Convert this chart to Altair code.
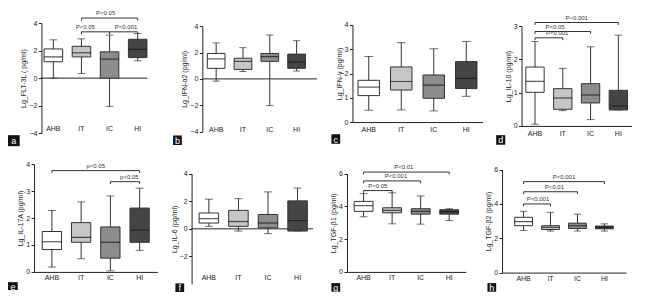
import altair as alt
import pandas as pd

groups = ["AHB", "IT", "IC", "HI"]
box_fills = ["#ffffff", "#c6c6c6", "#8c8c8c", "#454545"]

# whisker low, Q1, median, Q3, whisker high for each group
flt3l_low = [0.00, 0.33, -2.05, 1.26]
flt3l_q1 = [1.19, 1.54, 0.00, 1.49]
flt3l_med = [1.54, 1.84, 1.38, 2.08]
flt3l_q3 = [2.12, 2.31, 1.91, 2.82]
flt3l_high = [2.78, 2.85, 3.12, 3.24]

ifna2_low = [-0.17, 0.56, -2.03, 0.60]
ifna2_q1 = [0.80, 0.72, 1.33, 0.80]
ifna2_med = [1.52, 1.33, 1.69, 1.28]
ifna2_q3 = [1.93, 1.57, 1.93, 1.88]
ifna2_high = [2.73, 2.37, 3.33, 2.90]

ifng_low = [0.49, 0.50, 0.46, 1.06]
ifng_q1 = [1.09, 1.32, 0.98, 1.38]
ifng_med = [1.44, 1.67, 1.52, 1.80]
ifng_q3 = [1.72, 2.27, 1.94, 2.49]
ifng_high = [2.70, 3.27, 3.02, 3.32]

il10_low = [0.05, 0.46, 0.19, 0.48]
il10_q1 = [1.01, 0.50, 0.69, 0.48]
il10_med = [1.34, 0.84, 0.93, 0.60]
il10_q3 = [1.77, 1.12, 1.27, 1.07]
il10_high = [2.54, 1.73, 2.38, 2.73]

il17a_low = [0.18, 0.49, 0.04, 0.80]
il17a_q1 = [0.83, 1.10, 0.51, 1.10]
il17a_med = [1.12, 1.28, 1.10, 1.55]
il17a_q3 = [1.50, 1.83, 1.67, 2.37]
il17a_high = [2.28, 2.60, 2.82, 3.11]

il6_low = [0.18, -0.16, -0.35, -0.16]
il6_q1 = [0.42, 0.18, 0.07, -0.16]
il6_med = [0.74, 0.53, 0.42, 0.60]
il6_q3 = [1.15, 1.34, 1.04, 2.03]
il6_high = [2.15, 2.19, 2.68, 2.96]

tgfb1_low = [3.37, 2.94, 2.92, 3.14]
tgfb1_q1 = [3.70, 3.61, 3.53, 3.53]
tgfb1_med = [4.05, 3.76, 3.70, 3.68]
tgfb1_q3 = [4.31, 3.92, 3.86, 3.80]
tgfb1_high = [4.78, 4.83, 4.64, 3.86]

tgfb2_low = [2.45, 2.42, 2.42, 2.42]
tgfb2_q1 = [2.73, 2.51, 2.57, 2.55]
tgfb2_med = [2.97, 2.64, 2.73, 2.64]
tgfb2_q3 = [3.22, 2.73, 2.88, 2.71]
tgfb2_high = [3.57, 3.51, 3.40, 2.84]

# significance brackets: (group from, group to, height, label, label shift)
flt3l_sig = [("IT", "HI", 4.36, "P<0.05", -4), ("IT", "IC", 3.36, "P<0.05", -10.5),
             ("IC", "HI", 3.36, "P<0.001", 2.5)]
il10_sig = [("AHB", "HI", 3.11, "P<0.001", 0), ("AHB", "IC", 2.84, "P<0.05", -8),
            ("AHB", "IT", 2.65, "P<0.001", 8.5)]
il17a_sig = [("AHB", "HI", 3.76, "p<0.05", 0), ("IC", "HI", 3.35, "p<0.05", 4.5)]
tgfb1_sig = [("AHB", "HI", 6.10, "P<0.01", -2.6), ("AHB", "IC", 5.56, "P<0.001", 4),
             ("AHB", "IT", 4.97, "P<0.05", 0)]
tgfb2_sig = [("AHB", "HI", 5.30, "P<0.001", 0), ("AHB", "IC", 4.71, "P<0.01", 4),
             ("AHB", "IT", 4.00, "P<0.001", 1)]

CW, CH = 156, 142
KX, KY = 4 * CW / 640, 2 * CH / 297
FS = 7
INK = "#222222"

panels = [
    dict(letter="a", title="Lg_FLT-3L ( pg/ml)", stats=(flt3l_low, flt3l_q1, flt3l_med, flt3l_q3, flt3l_high),
         dom=(-4, 4), ticks=[-4, -2, 0, 2, 4], top=20.7, bottom=136, axis=34.3, c0=46.5, c3=133,
         zero=(34.3, 143), xlab=131, sig=flt3l_sig, box=(0, 138, 12, 149.5)),
    dict(letter="b", title="Lg_IFN-α2 (pg/ml)", stats=(ifna2_low, ifna2_q1, ifna2_med, ifna2_q3, ifna2_high),
         dom=(-4, 4), ticks=[-4, -2, 0, 2, 4], top=24, bottom=134.3, axis=39.3, c0=53.5, c3=136,
         zero=(39.3, 157), xlab=131.7, sig=[], box=(9.3, 138.3, 18.3, 148.3)),
    dict(letter="c", title="Lg_IFN-γ (pg/ml)", stats=(ifng_low, ifng_q1, ifng_med, ifng_q3, ifng_high),
         dom=(0, 4), ticks=[0, 1, 2, 3, 4], top=22.7, bottom=124.3, axis=33.3, c0=50, c3=150,
         zero=None, xlab=131.7, sig=[], box=(11.7, 137, 20.7, 147)),
    dict(letter="d", title="Lg_IL-10 (pg/ml)", stats=(il10_low, il10_q1, il10_med, il10_q3, il10_high),
         dom=(0, 3), ticks=[0, 1, 2, 3], top=24, bottom=128.3, axis=46.7, c0=60.5, c3=146,
         zero=None, xlab=136, sig=il10_sig, box=(20.7, 138, 30, 148)),
    dict(letter="e", title="Lg_IL-17A (pg/ml)", stats=(il17a_low, il17a_q1, il17a_med, il17a_q3, il17a_high),
         dom=(0, 4), ticks=[0, 1, 2, 3, 4], top=18.3, bottom=131, axis=26.7, c0=45, c3=135,
         zero=None, xlab=136, sig=il17a_sig, box=(0, 141.7, 10, 150)),
    dict(letter="f", title="Lg_IL-6 (pg/ml)", stats=(il6_low, il6_q1, il6_med, il6_q3, il6_high),
         dom=(-4, 4), ticks=[-2, 0, 2, 4], top=28.3, bottom=143.6, axis=28.3, c0=46, c3=137,
         zero=(28.3, 153), xlab=136.7, sig=[], box=(11.7, 143, 20.7, 152)),
    dict(letter="g", title="Lg_TGF-β1 (pg/ml)", stats=(tgfb1_low, tgfb1_q1, tgfb1_med, tgfb1_q3, tgfb1_high),
         dom=(0, 6), ticks=[0, 2, 4, 6], top=28.3, bottom=131, axis=27.7, c0=44.7, c3=132.5,
         zero=None, xlab=136.7, sig=tgfb1_sig, box=(11.7, 142.7, 20.7, 151.7)),
    dict(letter="h", title="Lg_TGF-β2  (pg/ml)", stats=(tgfb2_low, tgfb2_q1, tgfb2_med, tgfb2_q3, tgfb2_high),
         dom=(0, 6), ticks=[0, 2, 4, 6], top=24, bottom=131.7, axis=26.7, c0=48.8, c3=131.7,
         zero=None, xlab=137.3, sig=tgfb2_sig, box=(11.7, 142.7, 20.7, 151.7)),
]


def build(spec, col, row):
    fx = lambda v: (160 * col + v) * KX - col * CW
    fy = lambda v: (150 * row + v - 5) * KY - row * CH
    ax = fx(spec["axis"])
    c0, c3 = fx(spec["c0"]), fx(spec["c3"])
    step = (c3 - c0) / 3
    p = max(0.0, (c0 - ax) / step - 0.5) if spec["zero"] is None else 0.0
    L, R = c0 - step * (0.5 + p), c3 + step * (0.5 + p)
    yT, yB = fy(spec["top"]), fy(spec["bottom"])
    lo, hi = spec["dom"]
    ppu = (yB - yT) / (hi - lo)

    xs = alt.Scale(domain=groups, range=[L, R], paddingInner=0, paddingOuter=p)
    ys = alt.Scale(domain=[lo, hi], range=[yB, yT], nice=False, zero=False)
    lab_y = fy(spec["xlab"])
    if spec["zero"] is not None:
        xaxis = alt.Axis(title=None, domain=False, ticks=False, tickSize=0, labelAngle=0,
                         labelPadding=1, offset=(lab_y - FS / 2 - 1) - CH)
    else:
        xaxis = alt.Axis(title=None, domain=True, ticks=False, tickSize=0, labelAngle=0,
                         labelPadding=max(1.0, lab_y - FS / 2 - yB), offset=yB - CH)
    yaxis = alt.Axis(title=spec["title"], values=spec["ticks"], format="d", offset=-ax,
                     tickSize=3, labelPadding=1.5, titlePadding=2, grid=False)

    X = lambda f: alt.X(f + ":N", scale=xs, axis=xaxis, sort=groups)
    Y = lambda f: alt.Y(f + ":Q", scale=ys, axis=yaxis)

    low, q1, med, q3, high = spec["stats"]
    df = pd.DataFrame({"group": groups, "low": low, "q1": q1, "med": med, "q3": q3, "high": high})
    base = alt.Chart(df)
    boxw = step * 0.66
    capw = step * 0.27

    layers = []
    if spec["zero"] is not None:
        z0, z1 = spec["zero"]
        layers.append(
            alt.Chart(pd.DataFrame({"z": [0]})).mark_rule(color=INK, strokeWidth=1).encode(
                y=Y("z"), x=alt.value(fx(z0)), x2=alt.value(fx(z1))))
    layers += [
        base.mark_rule(color="#333", strokeWidth=1).encode(x=X("group"), y=Y("low"), y2="high:Q"),
        base.mark_bar(width=alt.RelativeBandSize(0.66), stroke="#333", strokeWidth=1).encode(
            x=X("group"), y=Y("q1"), y2="q3:Q",
            color=alt.Color("group:N", scale=alt.Scale(domain=groups, range=box_fills), legend=None)),
        base.mark_tick(color="#111", thickness=1.2, size=boxw).encode(x=X("group"), y=Y("med")),
        base.mark_tick(color="#333", thickness=1, size=capw).encode(x=X("group"), y=Y("low")),
        base.mark_tick(color="#333", thickness=1, size=capw).encode(x=X("group"), y=Y("high")),
    ]

    if spec["sig"]:
        drop = 2.5 * KY / ppu
        bdf = pd.DataFrame({"g1": [s[0] for s in spec["sig"]], "g2": [s[1] for s in spec["sig"]],
                            "v": [s[2] for s in spec["sig"]]})
        ends = []
        for s in spec["sig"]:
            ends.append({"g": s[0], "v": s[2], "vd": s[2] - drop})
            ends.append({"g": s[1], "v": s[2], "vd": s[2] - drop})
        layers.append(alt.Chart(bdf).mark_rule(color="#333", strokeWidth=1).encode(
            x=X("g1"), x2="g2:N", y=Y("v")))
        layers.append(alt.Chart(pd.DataFrame(ends)).mark_rule(color="#333", strokeWidth=1).encode(
            x=X("g"), y=Y("v"), y2="vd:Q"))
        for s in spec["sig"]:
            i1, i2 = groups.index(s[0]), groups.index(s[1])
            dx = (i2 - i1) / 2 * step + s[4] * KX
            layers.append(alt.Chart(pd.DataFrame({"g1": [s[0]], "v": [s[2]], "label": [s[3]]})).mark_text(
                dx=dx, dy=-4.6, fontSize=6, color="#333", font="Liberation Sans").encode(
                x=X("g1"), y=Y("v"), text="label:N"))

    bx0, by0, bx1, by1 = spec["box"]
    ldf = pd.DataFrame({"t": [spec["letter"]]})
    layers.append(alt.Chart(ldf).mark_rect(color="#111").encode(
        x=alt.value(fx(bx0)), x2=alt.value(fx(bx1)), y=alt.value(fy(by0)), y2=alt.value(fy(by1))))
    layers.append(alt.Chart(ldf).mark_text(color="white", fontSize=9, font="Liberation Sans",
                                           baseline="middle", align="center").encode(
        x=alt.value((fx(bx0) + fx(bx1)) / 2), y=alt.value((fy(by0) + fy(by1)) / 2 + 0.5), text="t:N"))

    return alt.layer(*layers).properties(width=CW, height=CH)


charts = [build(s, i % 4, i // 4) for i, s in enumerate(panels)]

chart = alt.concat(*charts, columns=4, spacing=0, bounds="flush").properties(
    padding=0
).configure_view(stroke=None).configure_axis(
    labelFont="Liberation Sans", titleFont="Liberation Sans", labelFontSize=FS, titleFontSize=FS,
    labelColor=INK, titleColor=INK, titleFontWeight="normal", domainColor=INK, tickColor=INK,
    domainWidth=1, tickWidth=1
)

chart.save("out.html", embed_options={"renderer": "svg", "actions": False})
